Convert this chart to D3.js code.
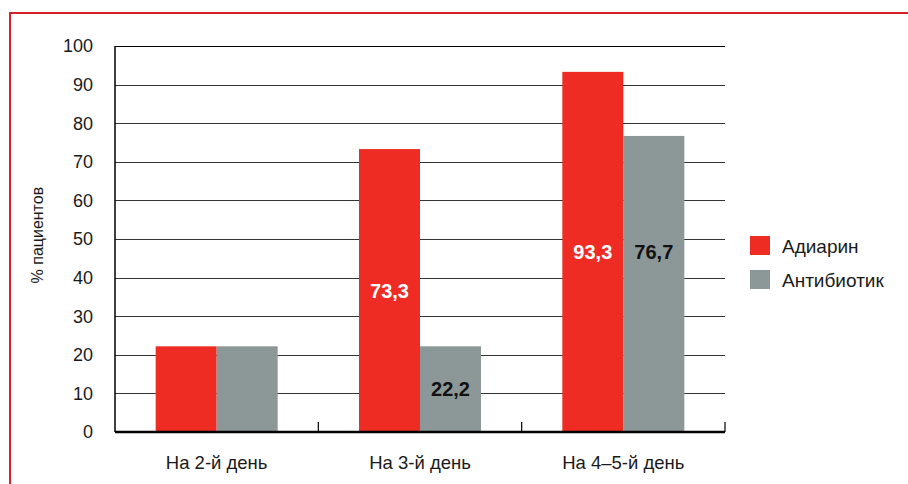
<!DOCTYPE html>
<html>
<head>
<meta charset="utf-8">
<script src="https://cdn.jsdelivr.net/npm/d3@7"></script>
<style>
  body { margin: 0; background: #fff; }
  text { font-family: "Liberation Sans", Arial, sans-serif; fill: #1a1a1a; }
</style>
</head>
<body>
<div id="chart"></div>
<script>
// data
var categories = ["На 2-й день", "На 3-й день", "На 4–5-й день"];
var seriesNames = ["Адиарин", "Антибиотик"];
var adiarin = [22.2, 73.3, 93.3];
var antibiotic = [22.2, 22.2, 76.7];
var showLabels = [false, true, true];
var yTicks = [0, 10, 20, 30, 40, 50, 60, 70, 80, 90, 100];

var colors = ["#ee2c24", "#8c9798"];
var labelColors = ["#fff", "#111"];

var W = 908, H = 484;
var margin = {top: 46, right: 183, bottom: 52, left: 115},
    width = W - margin.left - margin.right,
    height = H - margin.top - margin.bottom;

var svg = d3.select("#chart").append("svg")
    .attr("width", W)
    .attr("height", H);

// red frame (left + top)
svg.append("path")
  .attr("d", "M10," + H + " V13 H" + W)
  .attr("fill", "none")
  .attr("stroke", "#d2202c")
  .attr("stroke-width", 2);

var g = svg.append("g")
  .attr("transform", "translate(" + margin.left + "," + margin.top + ")");

var x = d3.scaleBand().domain(categories).range([0, width]).paddingInner(0).paddingOuter(0);
var y = d3.scaleLinear().domain([0, 100]).range([height, 0]);
var barW = x.bandwidth() * 0.3;

// gridlines
g.selectAll(".grid").data(yTicks.filter(function(d) { return d > 0; }))
  .enter().append("line")
  .attr("x1", 0).attr("x2", width)
  .attr("y1", function(d) { return Math.round(y(d)) + 0.5; })
  .attr("y2", function(d) { return Math.round(y(d)) + 0.5; })
  .attr("stroke", function(d) { return d === 100 ? "#000" : "#333"; })
  .attr("stroke-width", 1.2);

// y axis labels
g.selectAll(".ylab").data(yTicks)
  .enter().append("text")
  .attr("x", -22)
  .attr("y", function(d) { return y(d); })
  .attr("dy", "0.35em")
  .attr("text-anchor", "end")
  .style("font-size", "18px")
  .text(function(d) { return d; });

// bars
var series = [adiarin, antibiotic];
series.forEach(function(vals, s) {
  g.selectAll(".bar" + s).data(vals)
    .enter().append("rect")
    .attr("x", function(d, i) { return x(categories[i]) + x.bandwidth() / 2 - barW + s * barW; })
    .attr("y", function(d) { return y(d); })
    .attr("width", barW)
    .attr("height", function(d) { return height - y(d); })
    .attr("fill", colors[s]);
});

// value labels
series.forEach(function(vals, s) {
  vals.forEach(function(v, i) {
    if (!showLabels[i]) return;
    var groupMax = Math.max(adiarin[i], antibiotic[i]);
    var ly = v > 50 ? y(groupMax / 2) : y(v / 2);
    g.append("text")
      .attr("x", x(categories[i]) + x.bandwidth() / 2 - barW + s * barW + barW / 2)
      .attr("y", ly)
      .attr("dy", "0.35em")
      .attr("text-anchor", "middle")
      .style("font-size", "20px")
      .style("font-weight", "bold")
      .style("fill", labelColors[s])
      .text(d3.format(".1f")(v).replace(".", ","));
  });
});

// axes lines
g.append("line")
  .attr("x1", 0).attr("x2", 0).attr("y1", 0).attr("y2", height)
  .attr("stroke", "#000").attr("stroke-width", 1.5);
g.append("line")
  .attr("x1", 0).attr("x2", width).attr("y1", height).attr("y2", height)
  .attr("stroke", "#000").attr("stroke-width", 2.5);

// category separator ticks
g.selectAll(".sep").data(categories)
  .enter().append("line")
  .attr("x1", function(d) { return x(d) + x.bandwidth(); })
  .attr("x2", function(d) { return x(d) + x.bandwidth(); })
  .attr("y1", height - 10).attr("y2", height)
  .attr("stroke", "#000").attr("stroke-width", 1.2);

// x labels
g.selectAll(".xlab").data(categories)
  .enter().append("text")
  .attr("x", function(d) { return x(d) + x.bandwidth() / 2; })
  .attr("y", height + 31)
  .attr("dy", "0.35em")
  .attr("text-anchor", "middle")
  .style("font-size", "18.5px")
  .text(function(d) { return d; });

// y title
svg.append("text")
  .attr("transform", "translate(37," + (margin.top + height * 0.49) + ") rotate(-90)")
  .attr("dy", "0.35em")
  .attr("text-anchor", "middle")
  .style("font-size", "16px")
  .text("% пациентов");

// legend
var legend = svg.append("g").attr("transform", "translate(750,236)");
seriesNames.forEach(function(name, i) {
  legend.append("rect")
    .attr("x", 0).attr("y", i * 34)
    .attr("width", 20).attr("height", 19)
    .attr("fill", colors[i]);
  legend.append("text")
    .attr("x", 32).attr("y", i * 34 + 10)
    .attr("dy", "0.35em")
    .style("font-size", "19px")
    .text(name);
});
</script>
</body>
</html>
